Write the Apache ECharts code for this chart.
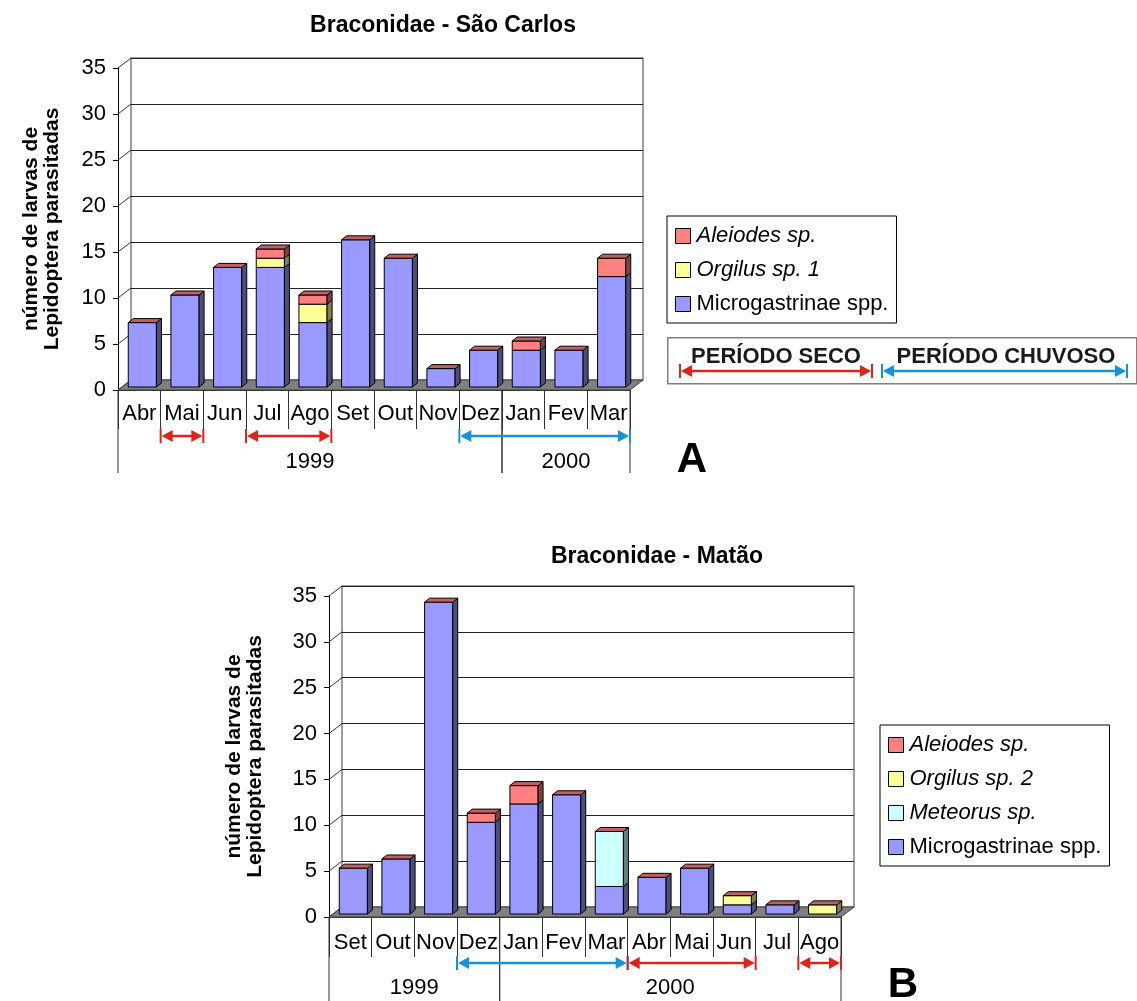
<!DOCTYPE html>
<html>
<head>
<meta charset="utf-8">
<script src="https://cdn.jsdelivr.net/npm/echarts@6/dist/echarts.min.js"></script>
<style>
	body { margin: 0; background: #fff; }
	#chart-a { width: 1137px; height: 500px; }
	#chart-b { width: 1137px; height: 501px; }
</style>
</head>
<body>
<div id="chart-a"></div>
<div id="chart-b"></div>
<script>
// ---- data: São Carlos (A)
var monthsA = ['Abr', 'Mai', 'Jun', 'Jul', 'Ago', 'Set', 'Out', 'Nov', 'Dez', 'Jan', 'Fev', 'Mar'];
var microA = [7, 10, 13, 13, 7, 16, 14, 2, 4, 4, 4, 12];
var orgilusA = [0, 0, 0, 1, 2, 0, 0, 0, 0, 0, 0, 0];
var aleiodesA = [0, 0, 0, 1, 1, 0, 0, 0, 0, 1, 0, 2];
var yearsA = ['1999', '2000'];
var yearSpansA = [[0, 8], [9, 11]];
var periodSpansA = [[1, 1], [3, 4], [8, 11]];
var periodKindsA = ['seco', 'seco', 'chuvoso'];

// ---- data: Matão (B)
var monthsB = ['Set', 'Out', 'Nov', 'Dez', 'Jan', 'Fev', 'Mar', 'Abr', 'Mai', 'Jun', 'Jul', 'Ago'];
var microB = [5, 6, 34, 10, 12, 13, 3, 4, 5, 1, 1, 0];
var meteorusB = [0, 0, 0, 0, 0, 0, 6, 0, 0, 0, 0, 0];
var orgilusB = [0, 0, 0, 0, 0, 0, 0, 0, 0, 1, 0, 1];
var aleiodesB = [0, 0, 0, 1, 2, 0, 0, 0, 0, 0, 0, 0];
var yearsB = ['1999', '2000'];
var yearSpansB = [[0, 3], [4, 11]];
var periodSpansB = [[3, 6], [7, 9], [11, 11]];
var periodKindsB = ['chuvoso', 'seco', 'seco'];

var yTicks = [0, 5, 10, 15, 20, 25, 30, 35];

var FONT = '"Liberation Sans", Arial, sans-serif';
var palette = {
	'Microgastrinae spp.': { front: '#9999FF', side: '#4D4D80', top: '#7A7ACC' },
	'Meteorus sp.': { front: '#CCFFFF', side: '#668080', top: '#A3CCCC' },
	'Orgilus sp. 1': { front: '#FFFF99', side: '#80804D', top: '#CCCC7A' },
	'Orgilus sp. 2': { front: '#FFFF99', side: '#80804D', top: '#CCCC7A' },
	'Aleiodes sp.': { front: '#FF8080', side: '#804040', top: '#C06060' }
};
var arrowColors = { seco: '#DA251D', chuvoso: '#1592D8' };

function arrowShapes(xa, xb, y, color) {
	return [
		{ type: 'line', shape: { x1: xa + 4, y1: y, x2: xb - 4, y2: y }, style: { stroke: color, lineWidth: 2.5 } },
		{ type: 'line', shape: { x1: xa, y1: y - 7, x2: xa, y2: y + 7 }, style: { stroke: color, lineWidth: 2 } },
		{ type: 'line', shape: { x1: xb, y1: y - 7, x2: xb, y2: y + 7 }, style: { stroke: color, lineWidth: 2 } },
		{ type: 'polygon', shape: { points: [[xa + 1, y], [xa + 12, y - 6], [xa + 12, y + 6]] }, style: { fill: color } },
		{ type: 'polygon', shape: { points: [[xb - 1, y], [xb - 12, y - 6], [xb - 12, y + 6]] }, style: { fill: color } }
	];
}

function makeBar(col, isTop) {
	return function(params, api) {
		var i = api.value(0), lo = api.value(1), hi = api.value(2);
		if (hi <= lo && !isTop) return;
		var w = api.size([1, 0])[0] * 0.66;
		var p0 = api.coord([i, lo]), p1 = api.coord([i, hi]);
		var x0 = p0[0] - w / 2 + 3, x1 = x0 + w;
		var yb = p0[1] - 3, yt = p1[1] - 3;
		var dx = 5, dy = -4;
		var ch = [];
		if (hi > lo) {
			ch.push({ type: 'rect', shape: { x: x0, y: yt, width: w, height: yb - yt },
				style: { fill: col.front, stroke: '#000', lineWidth: 1 } });
			ch.push({ type: 'polygon', shape: { points: [[x1, yb], [x1 + dx, yb + dy], [x1 + dx, yt + dy], [x1, yt]] },
				style: { fill: col.side, stroke: '#000', lineWidth: 1 } });
		}
		if (isTop) {
			ch.push({ type: 'polygon', shape: { points: [[x0, yt], [x1, yt], [x1 + dx, yt + dy], [x0 + dx, yt + dy]] },
				style: { fill: col.top, stroke: '#000', lineWidth: 1 } });
		}
		return { type: 'group', children: ch };
	};
}

function build(id, cfg) {
	var chart = echarts.init(document.getElementById(id));
	var g = cfg.grid, d = cfg.depth;
	var series = [];

	// back wall, floor and side connectors
	series.push({
		type: 'custom', name: 'frame', silent: true, z: 1,
		data: [[0, 0]],
		renderItem: function(params, api) {
			var cs = params.coordSys;
			var yb = cs.y + cs.height;
			var ch = [{
				type: 'polygon',
				shape: { points: [[cs.x, yb], [cs.x + cs.width, yb], [cs.x + cs.width + d[0], yb + d[1]], [cs.x + d[0], yb + d[1]]] },
				style: { fill: '#808080', stroke: '#404040', lineWidth: 1 }
			}];
			yTicks.forEach(function(v) {
				var y = api.coord([0, v])[1];
				ch.push({ type: 'line', shape: { x1: cs.x, y1: y, x2: cs.x + d[0], y2: y + d[1] },
					style: { stroke: v === 0 ? '#404040' : '#333', lineWidth: 1 } });
			});
			return { type: 'group', children: ch };
		}
	});

	// stacked 3D bars
	var base = cfg.months.map(function() { return 0; });
	cfg.stacks.forEach(function(s, k) {
		var col = palette[s.name];
		var data = s.data.map(function(v, i) {
			var item = [i, base[i], base[i] + v];
			base[i] += v;
			return item;
		});
		series.push({
			type: 'custom', name: s.name, z: 5,
			itemStyle: { color: col.front, borderColor: '#000', borderWidth: 1 },
			encode: { x: 0, y: [1, 2] },
			renderItem: makeBar(col, k === cfg.stacks.length - 1),
			data: data
		});
	});

	// year groups under the month labels
	series.push({
		type: 'custom', name: 'years', silent: true, z: 3,
		data: cfg.yearSpans,
		renderItem: function(params, api) {
			var half = api.size([1, 0])[0] / 2;
			var a = api.coord([api.value(0), 0]), b = api.coord([api.value(1), 0]);
			var xl = a[0] - half, xr = b[0] + half, y0 = a[1];
			return { type: 'group', children: [
				{ type: 'line', shape: { x1: xl, y1: y0, x2: xl, y2: y0 + cfg.yearLine }, style: { stroke: '#333', lineWidth: 1 } },
				{ type: 'line', shape: { x1: xr, y1: y0, x2: xr, y2: y0 + cfg.yearLine }, style: { stroke: '#333', lineWidth: 1 } },
				{ type: 'text', x: (xl + xr) / 2, y: y0 + cfg.yearY,
					style: { text: cfg.years[params.dataIndex], font: '22px ' + FONT, fill: '#000', align: 'center', verticalAlign: 'middle' } }
			] };
		}
	});

	// dry / rainy period arrows
	series.push({
		type: 'custom', name: 'periods', silent: true, z: 4,
		data: cfg.periodSpans,
		renderItem: function(params, api) {
			var half = api.size([1, 0])[0] / 2;
			var a = api.coord([api.value(0), 0]), b = api.coord([api.value(1), 0]);
			return { type: 'group', children: arrowShapes(a[0] - half, b[0] + half, a[1] + cfg.arrowY, arrowColors[cfg.periodKinds[params.dataIndex]]) };
		}
	});

	var legendNames = cfg.stacks.map(function(s) { return s.name; }).reverse();

	var option = {
		animation: false,
		title: {
			text: cfg.title, left: cfg.titlePos[0], top: cfg.titlePos[1], textAlign: 'center',
			textStyle: { fontFamily: FONT, fontSize: 23, fontWeight: 'bold', color: '#000' }
		},
		legend: {
			orient: 'vertical', left: cfg.legendPos[0], top: cfg.legendPos[1],
			padding: [9, 8, 8, 8], itemGap: 12, itemWidth: 15, itemHeight: 15,
			borderColor: '#000', borderWidth: 1, icon: 'rect',
			itemStyle: { borderColor: '#000', borderWidth: 1 },
			textStyle: { fontFamily: FONT, fontSize: 22, color: '#000', padding: [0, 0, 0, 1] },
			selectedMode: false,
			data: legendNames.map(function(n) {
				return { name: n, textStyle: { fontStyle: n.indexOf('Microgastrinae') === 0 ? 'normal' : 'italic' } };
			})
		},
		grid: [
			{ left: g.left, top: g.top, width: g.width, height: g.height },
			{ left: g.left + d[0], top: g.top + d[1], width: g.width, height: g.height,
				show: true, backgroundColor: '#fff', borderColor: '#808080', borderWidth: 1.5, z: 0 }
		],
		xAxis: [{
			type: 'category', gridIndex: 0, data: cfg.months,
			axisLine: { show: true, lineStyle: { color: '#333', width: 1 } },
			axisTick: { show: true, interval: 0, length: cfg.monthLine, lineStyle: { color: '#333' } },
			axisLabel: { interval: 0, margin: cfg.monthMargin, fontFamily: FONT, fontSize: 22, color: '#000' }
		}, {
			type: 'category', gridIndex: 1, data: cfg.months, show: false
		}],
		yAxis: [{
			type: 'value', gridIndex: 0, min: 0, max: 35, interval: 5,
			name: 'número de larvas de\nLepidoptera parasitadas',
			nameLocation: 'middle', nameGap: cfg.nameGap, nameRotate: 90,
			nameTextStyle: { fontFamily: FONT, fontSize: 21, fontWeight: 'bold', color: '#000', lineHeight: 21 },
			axisLine: { show: true, lineStyle: { color: '#000', width: 1 } },
			axisTick: { show: true, length: 5, lineStyle: { color: '#000' } },
			axisLabel: { margin: 12, fontFamily: FONT, fontSize: 22, color: '#000' },
			splitLine: { show: false }
		}, {
			type: 'value', gridIndex: 1, min: 0, max: 35, interval: 5,
			axisLine: { show: false }, axisTick: { show: false }, axisLabel: { show: false },
			splitLine: { show: true, lineStyle: { color: '#222', width: 1 } }
		}],
		graphic: cfg.graphic,
		series: series
	};
	chart.setOption(option);
	return chart;
}

// period key box (chart A only)
var keyBox = [
	{ type: 'rect', left: 667, top: 337, shape: { width: 469, height: 46 },
		style: { fill: '#fff', stroke: '#808080', lineWidth: 1.5 } },
	{ type: 'text', x: 776, y: 357, style: { text: 'PERÍODO SECO', font: 'bold 22px ' + FONT, fill: '#1a1a1a', align: 'center', verticalAlign: 'middle' } },
	{ type: 'text', x: 1006, y: 357, style: { text: 'PERÍODO CHUVOSO', font: 'bold 22px ' + FONT, fill: '#1a1a1a', align: 'center', verticalAlign: 'middle' } },
	{ type: 'group', children: arrowShapes(680, 872, 371, arrowColors.seco) },
	{ type: 'group', children: arrowShapes(882, 1127, 371, arrowColors.chuvoso) },
	{ type: 'text', x: 692, y: 460, style: { text: 'A', font: 'bold 42px ' + FONT, fill: '#000', align: 'center', verticalAlign: 'middle' } }
];

build('chart-a', {
	title: 'Braconidae - São Carlos', titlePos: [438, 9],
	grid: { left: 118, top: 68, width: 512, height: 322 }, depth: [13, -10],
	months: monthsA,
	stacks: [
		{ name: 'Microgastrinae spp.', data: microA },
		{ name: 'Orgilus sp. 1', data: orgilusA },
		{ name: 'Aleiodes sp.', data: aleiodesA }
	],
	years: yearsA, yearSpans: yearSpansA, yearLine: 83, yearY: 72,
	periodSpans: periodSpansA, periodKinds: periodKindsA, arrowY: 46,
	monthLine: 39, monthMargin: 13, nameGap: 55,
	legendPos: [667, 216],
	graphic: keyBox
});

build('chart-b', {
	title: 'Braconidae - Matão', titlePos: [652, 40],
	grid: { left: 329, top: 96, width: 512, height: 321 }, depth: [13, -10],
	months: monthsB,
	stacks: [
		{ name: 'Microgastrinae spp.', data: microB },
		{ name: 'Meteorus sp.', data: meteorusB },
		{ name: 'Orgilus sp. 2', data: orgilusB },
		{ name: 'Aleiodes sp.', data: aleiodesB }
	],
	years: yearsB, yearSpans: yearSpansB, yearLine: 90, yearY: 71,
	periodSpans: periodSpansB, periodKinds: periodKindsB, arrowY: 46,
	monthLine: 40, monthMargin: 15, nameGap: 63,
	legendPos: [880, 225],
	graphic: [
		{ type: 'text', x: 903, y: 485, style: { text: 'B', font: 'bold 42px ' + FONT, fill: '#000', align: 'center', verticalAlign: 'middle' } }
	]
});
</script>
</body>
</html>
